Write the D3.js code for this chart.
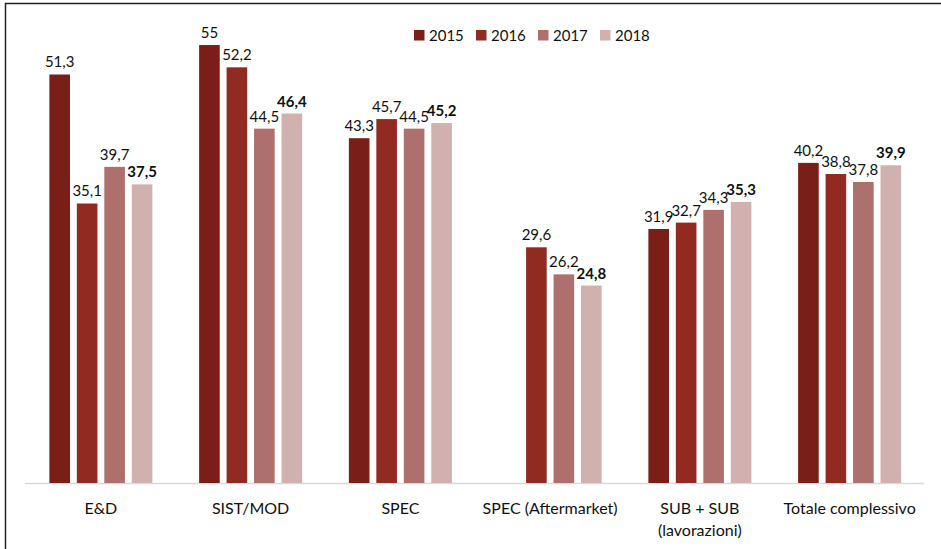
<!DOCTYPE html>
<html>
<head>
<meta charset="utf-8">
<script src="https://cdn.jsdelivr.net/npm/d3@7"></script>
<style>
  body { margin: 0; background: #fff; }
  svg { display: block; font-family: Lato, "Open Sans", sans-serif; }
</style>
</head>
<body>
<div id="chart"></div>
<script>
// categories and series
var categories = ["E&D", "SIST/MOD", "SPEC", "SPEC (Aftermarket)", "SUB + SUB|(lavorazioni)", "Totale complessivo"];
var years = ["2015", "2016", "2017", "2018"];
var v2015 = [51.3, 55, 43.3, null, 31.9, 40.2];
var v2016 = [35.1, 52.2, 45.7, 29.6, 32.7, 38.8];
var v2017 = [39.7, 44.5, 44.5, 26.2, 34.3, 37.8];
var v2018 = [37.5, 46.4, 45.2, 24.8, 35.3, 39.9];
var colors = ["#7a1f18", "#912a20", "#ae706c", "#d1b0b0"];

var series = [v2015, v2016, v2017, v2018];
var width = 941, height = 549;
var baseY = 483;
var groupW = 103;

var svg = d3.select("#chart").append("svg")
    .attr("width", width)
    .attr("height", height);

// frame (top + left edge only visible)
svg.append("path")
   .attr("d", "M5.5,549 L5.5,3.5 L941,3.5")
   .attr("fill", "none")
   .attr("stroke", "#222")
   .attr("stroke-width", 1.5);

var x0 = d3.scaleBand()
    .domain(categories)
    .range([26, 924.5]);

var x1 = d3.scaleBand()
    .domain(years)
    .range([0, groupW])
    .paddingInner(0.25);

var y = d3.scaleLinear()
    .domain([0, 60])
    .range([baseY, baseY - 60 * 7.963]);

var groupOffset = (x0.bandwidth() - groupW) / 2;

// axis line
svg.append("line")
   .attr("x1", 25).attr("x2", 924)
   .attr("y1", baseY + 0.5).attr("y2", baseY + 0.5)
   .attr("stroke", "#d9d9d9")
   .attr("stroke-width", 1.5);

var groups = svg.selectAll(".g-cat")
    .data(categories)
    .enter()
    .append("g")
    .attr("class", "g-cat")
    .attr("transform", function(d) { return "translate(" + (x0(d) + groupOffset) + ",0)"; });

groups.each(function(cat, ci) {
    var g = d3.select(this);
    years.forEach(function(yr, si) {
        var v = series[si][ci];
        if (v == null) return;
        g.append("rect")
         .attr("x", x1(yr))
         .attr("y", y(v))
         .attr("width", x1.bandwidth())
         .attr("height", baseY - y(v))
         .attr("fill", colors[si]);
        g.append("text")
         .attr("x", x1(yr) + x1.bandwidth() / 2)
         .attr("y", y(v) - 7)
         .attr("text-anchor", "middle")
         .style("font-size", "15px")
         .style("font-weight", si == 3 ? "bold" : "normal")
         .attr("fill", "#111")
         .text(String(v).replace(".", ","));
    });
});

// category labels
svg.selectAll(".cat-label")
   .data(categories)
   .enter()
   .append("text")
   .attr("class", "cat-label")
   .attr("x", function(d) { return x0(d) + x0.bandwidth() / 2; })
   .attr("y", 514)
   .attr("text-anchor", "middle")
   .style("font-size", "16px")
   .attr("fill", "#111")
   .each(function(d) {
       var parts = d.split("|");
       var t = d3.select(this);
       parts.forEach(function(p, i) {
           t.append("tspan")
            .attr("x", x0(d) + x0.bandwidth() / 2)
            .attr("dy", i == 0 ? 0 : 22)
            .text(p);
       });
   });

// legend
var legend = svg.append("g").attr("transform", "translate(414,30)");
var lg = legend.selectAll("g")
    .data(years)
    .enter()
    .append("g")
    .attr("transform", function(d, i) { return "translate(" + (i * 62) + ",0)"; });
lg.append("rect")
  .attr("width", 10.5).attr("height", 10.5)
  .attr("fill", function(d, i) { return colors[i]; });
lg.append("text")
  .attr("x", 15).attr("y", 11)
  .style("font-size", "15px")
  .attr("fill", "#111")
  .text(function(d) { return d; });
</script>
</body>
</html>
